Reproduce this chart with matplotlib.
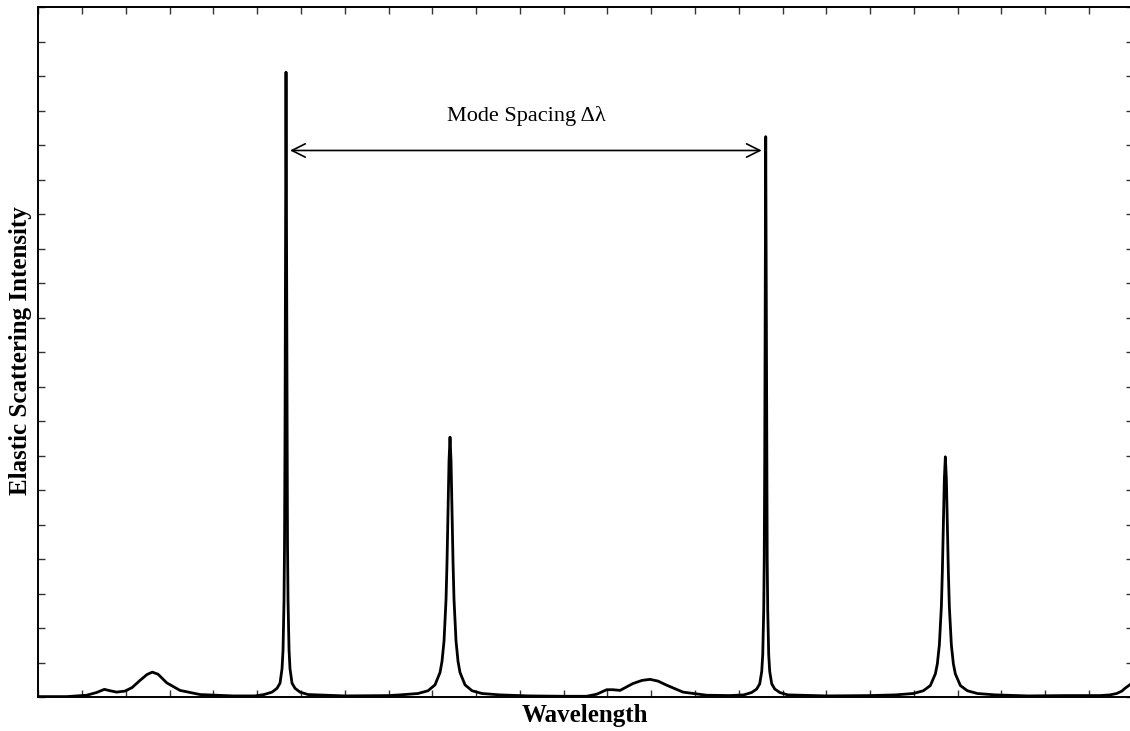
import numpy as np
import matplotlib
matplotlib.use("Agg")
import matplotlib.pyplot as plt
from matplotlib.ticker import MultipleLocator

# DATA (x in tick units, y in tick units)

wavelength = [
    0.000, 0.649, 1.106, 1.334, 1.508, 1.638, 1.791, 1.980, 2.140, 2.323,
    2.483, 2.604, 2.734, 2.933, 3.237, 3.694, 4.447, 4.950,
    # first strong mode
    5.156, 5.338, 5.452, 5.521, 5.567, 5.590, 5.612, 5.624, 5.635, 5.647,
    5.658, 5.669, 5.681, 5.692, 5.704, 5.727, 5.749, 5.795, 5.864, 5.978,
    6.161, 7.000, 8.000,
    # second mode
    8.262, 8.673, 8.901, 9.061, 9.176, 9.221, 9.267, 9.313, 9.335, 9.358,
    9.381, 9.404, 9.427, 9.450, 9.473, 9.495, 9.541, 9.587, 9.632, 9.747,
    9.907, 10.135, 10.546, 11.200, 12.000,
    # small bumps
    12.526, 12.755, 12.983, 13.127, 13.287, 13.584, 13.790, 13.972, 14.155,
    14.354, 14.726, 15.267, 15.800,
    # third strong mode
    16.113, 16.295, 16.409, 16.478, 16.524, 16.547, 16.569, 16.581, 16.592,
    16.604, 16.615, 16.626, 16.638, 16.649, 16.661, 16.683, 16.706, 16.752,
    16.821, 16.935, 17.117, 18.000, 19.000,
    # fourth mode
    19.576, 19.987, 20.215, 20.375, 20.490, 20.535, 20.581, 20.627, 20.649,
    20.672, 20.695, 20.718, 20.741, 20.764, 20.787, 20.809, 20.855, 20.901,
    20.946, 21.061, 21.221, 21.449, 21.860, 22.600, 23.500,
    # rising edge at right
    24.250, 24.480, 24.630, 24.750, 24.820, 24.940, 25.000,
]

intensity = [
    0.02, 0.02, 0.06, 0.14, 0.23, 0.19, 0.15, 0.18, 0.28, 0.49,
    0.66, 0.73, 0.67, 0.42, 0.20, 0.08, 0.04, 0.04,
    0.08, 0.15, 0.26, 0.41, 0.83, 1.37, 2.80, 4.43, 7.63, 13.4,
    18.12, 13.4, 7.63, 4.43, 2.80, 1.37, 0.83, 0.41, 0.26, 0.15,
    0.08, 0.04, 0.05,
    0.07, 0.11, 0.19, 0.36, 0.72, 1.04, 1.63, 2.84, 3.90, 5.33,
    6.85, 7.54, 6.85, 5.33, 3.90, 2.84, 1.63, 1.04, 0.72, 0.36,
    0.19, 0.11, 0.07, 0.04, 0.03,
    0.03, 0.09, 0.22, 0.22, 0.20, 0.40, 0.49, 0.52, 0.47,
    0.35, 0.15, 0.06, 0.05,
    0.07, 0.14, 0.24, 0.39, 0.75, 1.24, 2.51, 3.97, 6.85,
    12.0, 16.25, 12.0, 6.85, 3.97, 2.51, 1.24, 0.75, 0.39,
    0.24, 0.14, 0.07, 0.04, 0.05,
    0.07, 0.11, 0.19, 0.34, 0.68, 0.97, 1.52, 2.63, 3.62,
    4.95, 6.33, 6.97, 6.33, 4.95, 3.62, 2.63, 1.52, 0.97,
    0.68, 0.34, 0.19, 0.11, 0.07, 0.04, 0.05,
    0.05, 0.07, 0.11, 0.18, 0.26, 0.37, 0.45,
]

# mode spacing arrow between the two strong modes
arrow_start = 5.750
arrow_end = 16.524
arrow_y = 15.85
label_text = "Mode Spacing \u0394\u03bb"

fig = plt.figure(figsize=(11.3, 7.31), dpi=100)
ax = fig.add_axes([0.0339, 0.0461, 0.9686, 0.9439])

ax.plot(wavelength, intensity, color="black", lw=2.0)

ax.annotate("", xy=(arrow_start, arrow_y), xytext=(arrow_end, arrow_y),
            arrowprops=dict(arrowstyle="<->", color="black", lw=1.2,
                            mutation_scale=24, shrinkA=0, shrinkB=0))
ax.text((arrow_start + arrow_end) / 2, 16.85, label_text, ha="center",
        va="center", fontsize=16, family="Liberation Serif")

ax.set_xlim(0, 25)
ax.set_ylim(0, 20)
ax.xaxis.set_major_locator(MultipleLocator(1))
ax.yaxis.set_major_locator(MultipleLocator(1))
ax.tick_params(direction="in", length=5, width=1, color="#333333",
               top=True, right=True, labelbottom=False, labelleft=False)
for s in ax.spines.values():
    s.set_linewidth(1.4)

fig.text(0.518, 0.021, "Wavelength", ha="center", va="center",
         fontsize=18, fontweight="bold", family="Liberation Serif")
fig.text(0.018, 0.52, "Elastic Scattering Intensity", ha="center",
         va="center", rotation=90, fontsize=18, fontweight="bold",
         family="Liberation Serif")

fig.savefig("out.png", dpi=100)
